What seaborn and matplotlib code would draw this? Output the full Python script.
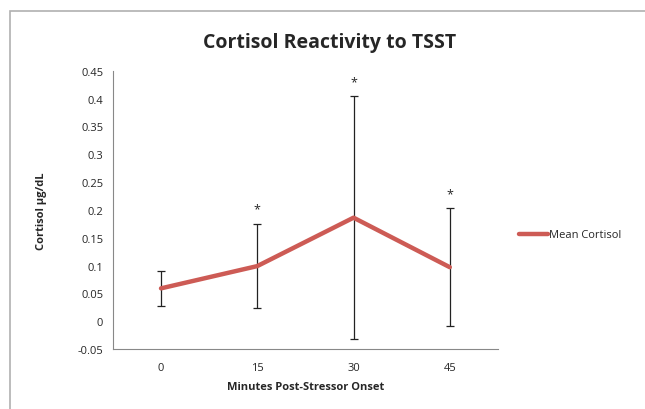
import numpy as np
import pandas as pd
import matplotlib
matplotlib.use("Agg")
import matplotlib.pyplot as plt
import seaborn as sns
from matplotlib.patches import Rectangle

minutes = ["0", "15", "30", "45"]
mean_cortisol = [0.059, 0.099, 0.186, 0.097]
err_cortisol = [0.031, 0.076, 0.218, 0.106]
significant = [False, True, True, True]

sns.set_style("white")
plt.rcParams['font.family'] = ['Open Sans', 'DejaVu Sans']

df = pd.DataFrame({'minutes': minutes, 'cortisol': mean_cortisol})

fig = plt.figure(figsize=(6.45, 4.10), dpi=100)
ax = fig.add_axes([0.175, 0.1463, 0.597, 0.6787])

# frame around the chart area, Excel style
fig.patches.append(Rectangle((10 / 645, -0.1), 1.2, 1 - 12 / 410 + 0.1,
                             transform=fig.transFigure, fill=False,
                             edgecolor='#b0b0b0', linewidth=1.2))

pos = np.arange(len(minutes))
ax.errorbar(pos, mean_cortisol, yerr=err_cortisol, fmt='none', ecolor='#222222',
            elinewidth=0.9, capsize=3, capthick=0.9, zorder=2)
sns.lineplot(x=pos, y=df['cortisol'], ax=ax, color='#cd5b55', linewidth=3.2,
             label='Mean Cortisol', zorder=3, legend=False)

for p, m, e, s in zip(pos, mean_cortisol, err_cortisol, significant):
    if s:
        ax.annotate('*', (p, m + e), xytext=(0, 6), textcoords='offset points',
                    ha='center', va='bottom', fontsize=9)

ax.set_xlim(-0.5, 3.5)
ax.set_ylim(-0.05, 0.45)
ax.set_yticks(np.arange(-0.05, 0.451, 0.05))
ax.set_yticklabels(['-0.05', '0', '0.05', '0.1', '0.15', '0.2', '0.25', '0.3', '0.35', '0.4', '0.45'])
ax.set_xticks(pos)
ax.set_xticklabels(minutes)
ax.set_xticks(np.arange(-0.5, 3.6, 1), minor=True)
ax.tick_params(axis='x', which='major', length=0, pad=9, labelsize=8)
ax.tick_params(axis='x', which='minor', length=4, width=0.8, color='#888888', direction='out')
ax.tick_params(axis='y', length=4, width=0.8, color='#888888', direction='out', labelsize=8, pad=3)

for side in ['top', 'right']:
    ax.spines[side].set_visible(False)
for side in ['left', 'bottom']:
    ax.spines[side].set_color('#888888')
    ax.spines[side].set_linewidth(0.8)

ax.set_xlabel('Minutes Post-Stressor Onset', fontsize=8, fontweight='bold', labelpad=6)
ax.set_ylabel('Cortisol µg/dL', fontsize=8, fontweight='bold', labelpad=22)
fig.text(330 / 645, 1 - 43 / 410, 'Cortisol Reactivity to TSST', ha='center', va='center',
         fontsize=14, fontweight='bold')

ax.legend(handles=ax.get_lines()[-1:], labels=['Mean Cortisol'], loc='center left',
          bbox_to_anchor=(1.03, 0.41), frameon=False, fontsize=8, handlelength=2.6,
          handletextpad=0.1)

fig.savefig('out.png', dpi=100)
